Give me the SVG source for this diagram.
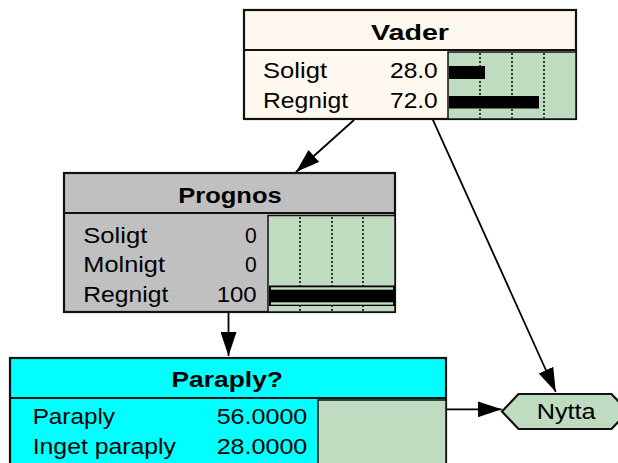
<svg xmlns="http://www.w3.org/2000/svg" width="618" height="463" viewBox="0 0 618 463">
  <style>
    .frame { stroke: #111; stroke-width: 2.2; }
    .panel { fill: #C0DCC0; stroke: #111; stroke-width: 1.5; }
    .grid { stroke: #000; stroke-width: 1.5; stroke-dasharray: 2 2; }
    .bar { fill: #000; }
    .title { font-family: "Liberation Sans", Arial, sans-serif; font-size: 22px; font-weight: bold; fill: #000; }
    .label { font-family: "Liberation Sans", Arial, sans-serif; font-size: 21.5px; fill: #000; }
    .edge { stroke: #000; stroke-width: 1.8; fill: none; marker-end: url(#arrow); }
  </style>
  <defs>
    <marker id="arrow" markerUnits="userSpaceOnUse" viewBox="0 0 24 16" refX="24" refY="8" markerWidth="24" markerHeight="16" orient="auto">
      <path d="M0,0 L24,8 L0,16 z" fill="#000"/>
    </marker>
  </defs>

  <rect width="618" height="463" fill="#fff"/>

  <!-- connectors -->
  <g id="connectors">
    <line class="edge" x1="354" y1="120" x2="296" y2="172"/>
    <line class="edge" x1="432.7" y1="119.3" x2="555.8" y2="392"/>
    <line class="edge" x1="228.5" y1="312" x2="228.5" y2="356"/>
    <line class="edge" x1="446" y1="409.3" x2="501.7" y2="409.3"/>
  </g>

  <!-- chance node: Vader -->
  <g id="vader">
    <rect class="frame" x="244" y="10" width="332" height="109" fill="#FFF8EE"/>
    <line class="frame" x1="244" y1="50" x2="576" y2="50"/>
    <rect class="panel" x="448" y="52" width="128" height="67"/>
    <line class="grid" x1="480" y1="53" x2="480" y2="118"/>
    <line class="grid" x1="512" y1="53" x2="512" y2="118"/>
    <line class="grid" x1="544" y1="53" x2="544" y2="118"/>
    <rect class="bar" x="449" y="66" width="36" height="13"/>
    <rect class="bar" x="449" y="96" width="90" height="12.5"/>
    <text class="title" x="371" y="40" textLength="78" lengthAdjust="spacingAndGlyphs">Vader</text>
    <text class="label" x="263" y="77.5" textLength="64" lengthAdjust="spacingAndGlyphs">Soligt</text>
    <text class="label" x="390" y="77.5" textLength="47.7" lengthAdjust="spacingAndGlyphs">28.0</text>
    <text class="label" x="263" y="107.5" textLength="85" lengthAdjust="spacingAndGlyphs">Regnigt</text>
    <text class="label" x="390" y="107.5" textLength="47.7" lengthAdjust="spacingAndGlyphs">72.0</text>
  </g>

  <!-- chance node: Prognos -->
  <g id="prognos">
    <rect class="frame" x="64" y="173" width="331" height="139" fill="#C0C0C0"/>
    <line class="frame" x1="64" y1="213" x2="395" y2="213"/>
    <rect class="panel" x="268" y="215.5" width="127" height="96.5"/>
    <line class="grid" x1="300" y1="217" x2="300" y2="311"/>
    <line class="grid" x1="332" y1="217" x2="332" y2="311"/>
    <line class="grid" x1="363" y1="217" x2="363" y2="311"/>
    <rect class="bar" x="269" y="285.5" width="126" height="20.5"/>
    <rect x="271" y="287.3" width="122" height="2.4" fill="#C0DCC0"/>
    <rect x="271" y="302.3" width="122" height="2.4" fill="#C0DCC0"/>
    <text class="title" x="178.3" y="203" textLength="103.4" lengthAdjust="spacingAndGlyphs">Prognos</text>
    <text class="label" x="83.3" y="242.5" textLength="64" lengthAdjust="spacingAndGlyphs">Soligt</text>
    <text class="label" x="245" y="242.5" textLength="11.7" lengthAdjust="spacingAndGlyphs">0</text>
    <text class="label" x="83.3" y="271.5" textLength="81.7" lengthAdjust="spacingAndGlyphs">Molnigt</text>
    <text class="label" x="245" y="271.5" textLength="11.7" lengthAdjust="spacingAndGlyphs">0</text>
    <text class="label" x="83.3" y="301.5" textLength="85" lengthAdjust="spacingAndGlyphs">Regnigt</text>
    <text class="label" x="216.7" y="301.5" textLength="40" lengthAdjust="spacingAndGlyphs">100</text>
  </g>

  <!-- decision node: Paraply? -->
  <g id="paraply">
    <rect class="frame" x="10" y="358" width="436" height="115" fill="#00FFFF"/>
    <line class="frame" x1="10" y1="398" x2="446" y2="398"/>
    <rect class="panel" x="318" y="400" width="128" height="73"/>
    <text class="title" x="171.5" y="387" textLength="111.5" lengthAdjust="spacingAndGlyphs">Paraply?</text>
    <text class="label" x="32.7" y="424" textLength="82.3" lengthAdjust="spacingAndGlyphs">Paraply</text>
    <text class="label" x="216.7" y="424" textLength="90.6" lengthAdjust="spacingAndGlyphs">56.0000</text>
    <text class="label" x="32.7" y="453.5" textLength="143.3" lengthAdjust="spacingAndGlyphs">Inget paraply</text>
    <text class="label" x="216.7" y="453.5" textLength="90.6" lengthAdjust="spacingAndGlyphs">28.0000</text>
  </g>

  <!-- utility node: Nytta -->
  <g id="nytta">
    <polygon class="frame" points="502,411.5 518.5,394 611.5,394 628,411.5 611.5,429 518.5,429" fill="#C0DCC0"/>
    <text class="label" x="536.7" y="419" textLength="59" lengthAdjust="spacingAndGlyphs">Nytta</text>
  </g>
</svg>
